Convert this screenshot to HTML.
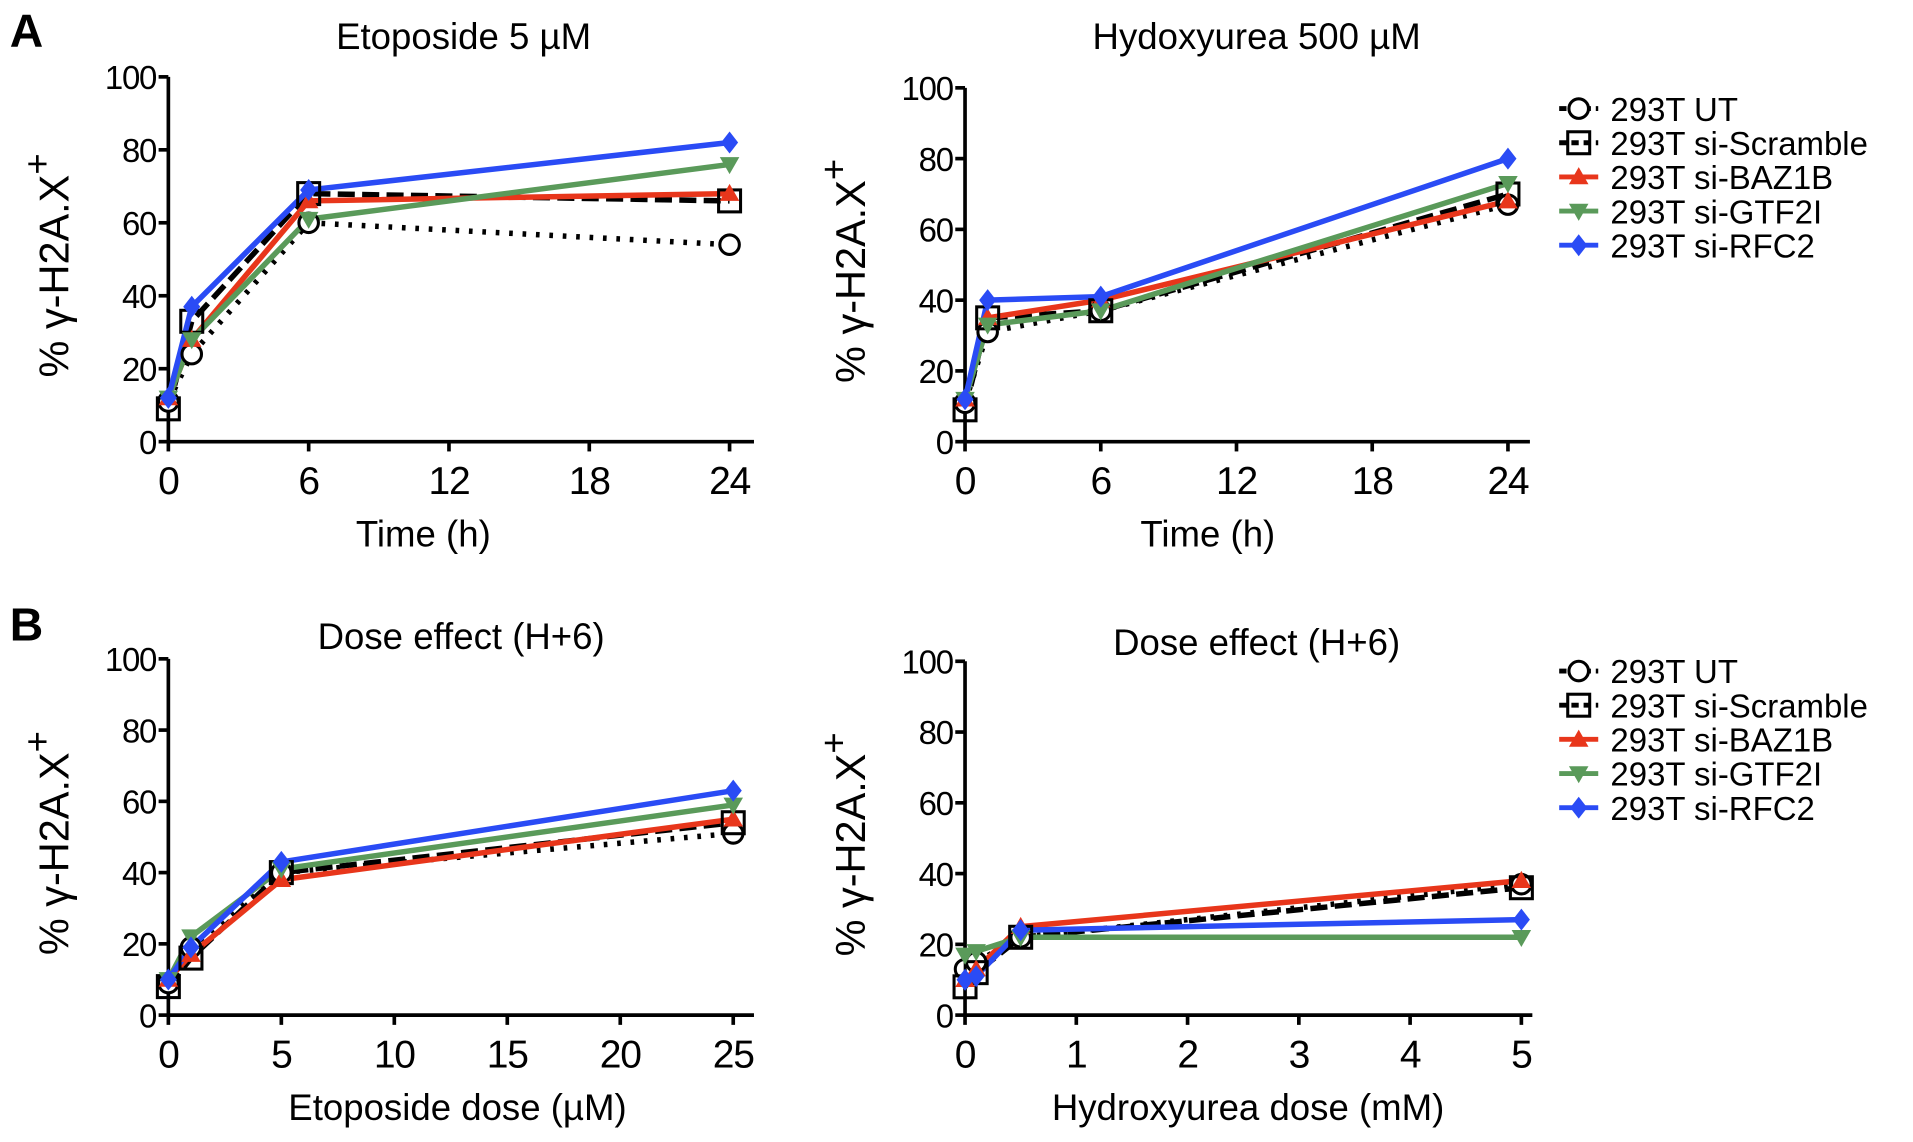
<!DOCTYPE html>
<html><head><meta charset="utf-8">
<style>html,body{margin:0;padding:0;background:#fff;}svg{display:block;font-family:"Liberation Sans",sans-serif;}</style>
</head><body>
<svg id="fig" width="1913" height="1142" viewBox="0 0 1568 936" preserveAspectRatio="none" xmlns="http://www.w3.org/2000/svg"></svg>
<script>
const seriesNames = ["293T UT","293T si-Scramble","293T si-BAZ1B","293T si-GTF2I","293T si-RFC2"];
const timeX = [0,1,6,24];
const hDoseX = [0,0.1,0.5,5];
const eDoseX = [0,1,5,25];
const etoUT=[11,24,60,54], etoScr=[9,33,68,66], etoBAZ=[12,28,66,68], etoGTF=[12,28,61,76], etoRFC=[12,37,69,82];
const huUT=[11,31,37,67], huScr=[9,35,37,70], huBAZ=[12,35,40,68], huGTF=[12,33,37,73], huRFC=[12,40,41,80];
const edUT=[9,19,40,51], edScr=[8,16,40,54], edBAZ=[10,17,38,55], edGTF=[10,22,41,59], edRFC=[10,19,43,63];
const hdUT=[13,15,22,37], hdScr=[8,12,22,36], hdBAZ=[10,13,25,38], hdGTF=[17,18,22,22], hdRFC=[10,11,24,27];
const timeTicks=[0,6,12,18,24], eTicks=[0,5,10,15,20,25], hTicks=[0,1,2,3,4,5], yTicks=[0,20,40,60,80,100];

const NS="http://www.w3.org/2000/svg";
const svg=document.getElementById('fig');
function mk(tag,attrs,parent){const e=document.createElementNS(NS,tag);for(const k in attrs)e.setAttribute(k,attrs[k]);(parent||svg).appendChild(e);return e;}
const styles=[
 {c:"#000",dash:"3,8",m:"circle"},
 {c:"#000",dash:"14,6",m:"square"},
 {c:"#e8361b",dash:"",m:"up"},
 {c:"#5a9a5a",dash:"",m:"down"},
 {c:"#2a4bf5",dash:"",m:"diamond"}];
function marker(g,m,x,y,c){
 let e;
 if(m==="circle"){e=mk('circle',{cx:x,cy:y,r:8,fill:'#fff',stroke:c,'stroke-width':2.5},g);}
 else if(m==="square"){e=mk('rect',{x:x-9,y:y-9,width:18,height:18,fill:'none',stroke:c,'stroke-width':2.5},g);}
 else if(m==="up"){e=mk('polygon',{points:`${x},${y-8} ${x-8},${y+6} ${x+8},${y+6}`,fill:c},g);}
 else if(m==="down"){e=mk('polygon',{points:`${x},${y+8} ${x-8},${y-6} ${x+8},${y-6}`,fill:c},g);}
 else {e=mk('polygon',{points:`${x},${y-9} ${x+7},${y} ${x},${y+9} ${x-7},${y}`,fill:c},g);}
 
 
}
function panel(p){
 const g=mk('g',{});
 
 
 const sx=v=>p.x0+(v-p.xmin)/(p.xmax-p.xmin)*(p.x1-p.x0);
 const sy=v=>p.y0-(v/100)*(p.y0-p.y1);
 const ax=mk('path',{d:`M${p.x0},${p.y1} L${p.x0},${p.y0} L${p.xend},${p.y0}`,fill:'none',stroke:'#000','stroke-width':3},g);
 
 yTicks.forEach(t=>{const y=sy(t);mk('line',{x1:p.x0-8,x2:p.x0,y1:y,y2:y,stroke:'#000','stroke-width':3},g);
  const tx=mk('text',{x:p.x0-10,y:y+10,'text-anchor':'end','font-size':27,'letter-spacing':-1},g);tx.textContent=t;
  });
 p.ticks.forEach(t=>{const x=sx(t);mk('line',{x1:x,x2:x,y1:p.y0,y2:p.y0+8,stroke:'#000','stroke-width':3},g);
  const tx=mk('text',{x:x,y:p.y0+43,'text-anchor':'middle','font-size':32,'letter-spacing':-1},g);tx.textContent=t;
  });
 const ti=mk('text',{x:p.tx,y:p.ty,'text-anchor':'middle','font-size':30},g);ti.textContent=p.title;
 
 const xt=mk('text',{x:p.xtx,y:p.y0+86,'text-anchor':'middle','font-size':30},g);xt.textContent=p.xlabel;
 
 const cy=(p.y0+p.y1)/2+5;
 const yt=mk('text',{x:0,y:0,'text-anchor':'middle','font-size':34,transform:`translate(${p.x0-82},${cy}) rotate(-90)`},g);
 yt.innerHTML='% γ-H2A.X<tspan dy="-15" font-size="30">+</tspan>';
 
 p.data.forEach((d,i)=>{const s=styles[i];
  const pts=d.map((v,j)=>`${sx(p.xs[j])},${sy(v)}`).join(' ');
  const l=mk('polyline',{points:pts,fill:'none',stroke:s.c,'stroke-width':4.5,'stroke-dasharray':s.dash,'stroke-linejoin':'round'},g);
  
 });
 p.data.forEach((d,i)=>{d.forEach((v,j)=>marker(g,styles[i].m,sx(p.xs[j]),sy(v),styles[i].c));});
}
panel({name:'panel-a-etoposide',x0:138,x1:598,xend:618,xmin:0,xmax:24,y0:362,y1:63,xs:timeX,ticks:timeTicks,data:[etoUT,etoScr,etoBAZ,etoGTF,etoRFC],title:'Etoposide 5 µM',tx:380,ty:40,xlabel:'Time (h)',xtx:347});
panel({name:'panel-a-hydroxyurea',x0:791,x1:1236,xend:1254,xmin:0,xmax:24,y0:362,y1:72,xs:timeX,ticks:timeTicks,data:[huUT,huScr,huBAZ,huGTF,huRFC],title:'Hydoxyurea 500 µM',tx:1030,ty:40,xlabel:'Time (h)',xtx:990});
panel({name:'panel-b-etoposide-dose',x0:138,x1:601,xend:618,xmin:0,xmax:25,y0:832,y1:540,xs:eDoseX,ticks:eTicks,data:[edUT,edScr,edBAZ,edGTF,edRFC],title:'Dose effect (H+6)',tx:378,ty:532,xlabel:'Etoposide dose (µM)',xtx:375});
panel({name:'panel-b-hydroxyurea-dose',x0:791,x1:1247,xend:1256,xmin:0,xmax:5,y0:832,y1:542,xs:hDoseX,ticks:hTicks,data:[hdUT,hdScr,hdBAZ,hdGTF,hdRFC],title:'Dose effect (H+6)',tx:1030,ty:537,xlabel:'Hydroxyurea dose (mM)',xtx:1023});
function legend(y0,name){
 const g=mk('g',{});
 
 seriesNames.forEach((n,i)=>{const y=y0+i*28;const s=styles[i];
  mk('line',{x1:1278,x2:1310,y1:y,y2:y,stroke:s.c,'stroke-width':4,'stroke-dasharray':s.dash?'6,4':''},g);
  marker(g,s.m,1294,y,s.c);
  const t=mk('text',{x:1320,y:y+10,'font-size':27},g);t.textContent=n;
  });
}
legend(89,'legend-a');legend(550,'legend-b');
const la=mk('text',{x:8,y:38,'font-size':38,'font-weight':'bold'});la.textContent='A';

const lb=mk('text',{x:8,y:525,'font-size':38,'font-weight':'bold'});lb.textContent='B';

</script>
</body></html>
